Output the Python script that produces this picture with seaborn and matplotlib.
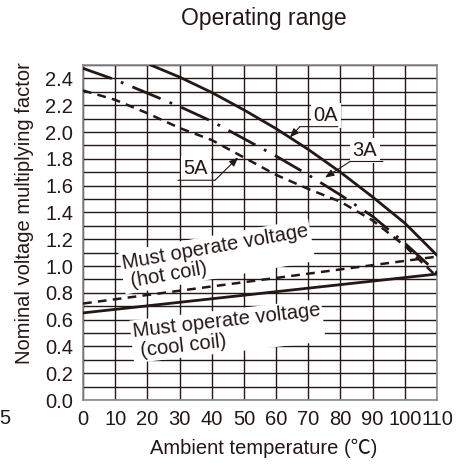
import numpy as np
import pandas as pd
import matplotlib
matplotlib.use("Agg")
import matplotlib.pyplot as plt
import seaborn as sns

# ---- data ----
temp = [0, 10, 20, 30, 40, 50, 60, 70, 80, 90, 100, 110]
temp_0a = [21, 30, 40, 50, 60, 70, 80, 90, 100, 110]
factor_0a = [2.50, 2.41, 2.295, 2.165, 2.025, 1.87, 1.70, 1.515, 1.32, 1.08]
factor_3a = [2.475, 2.39, 2.29, 2.19, 2.08, 1.95, 1.82, 1.68, 1.53, 1.37, 1.17, 0.95]
factor_5a = [2.31, 2.24, 2.14, 2.03, 1.94, 1.81, 1.68, 1.575, 1.48, 1.34, 1.15, 0.92]
temp_coil = [0, 110]
hot_coil = [0.72, 1.07]
cool_coil = [0.65, 0.94]
x_ticks = [0, 10, 20, 30, 40, 50, 60, 70, 80, 90, 100, 110]
y_ticks = [0.0, 0.2, 0.4, 0.6, 0.8, 1.0, 1.2, 1.4, 1.6, 1.8, 2.0, 2.2, 2.4]

sns.set_theme(style="white")
plt.rcParams['font.family'] = ['Liberation Sans', 'Noto Sans CJK JP', 'DejaVu Sans']

FS = 14.5
INK = '#231815'

fig = plt.figure(figsize=(4.70, 4.65), dpi=100)
ax = fig.add_axes([83/470, 1 - 400/465, 354/470, 335/465])

ax.set_xlim(0, 110)
ax.set_ylim(0, 2.5)
ax.set_xticks(x_ticks)
ax.set_xticklabels([str(t) for t in x_ticks], fontsize=FS, color=INK)
ax.set_yticks(y_ticks)
ax.set_yticklabels([f"{v:.1f}" for v in y_ticks], fontsize=FS, color=INK)
ax.set_yticks(np.arange(0, 2.51, 0.1), minor=True)
ax.tick_params(axis='both', which='both', length=0, pad=7)
ax.grid(True, which='both', color=INK, lw=1.0, zorder=0)
ax.set_axisbelow(True)
for s in ax.spines.values():
    s.set_color('#8a8a8a')
    s.set_linewidth(1.2)

# curves
sns.lineplot(x=temp_0a, y=factor_0a, ax=ax, color=INK, lw=2.0, zorder=3)
sns.lineplot(x=temp, y=factor_3a, ax=ax, color=INK, lw=2.0,
             linestyle=(0, (11, 3.5, 1, 3.5)), zorder=3)
sns.lineplot(x=temp, y=factor_5a, ax=ax, color=INK, lw=1.8,
             linestyle=(0, (3.5, 2.5)), zorder=3)
sns.lineplot(x=temp_coil, y=hot_coil, ax=ax, color=INK, lw=1.8,
             linestyle=(0, (3.5, 2.5)), zorder=3)
sns.lineplot(x=temp_coil, y=cool_coil, ax=ax, color=INK, lw=2.0, zorder=3)

box = dict(boxstyle='square,pad=0.15', fc='white', ec='none')
arrow = dict(arrowstyle='-|>,head_length=0.45,head_width=0.18', lw=0.8,
             color=INK, shrinkA=0, shrinkB=0)

def callout(text, tx, ty, hx0, hx1, hy, corner_x, tip):
    ax.text(tx, ty, text, fontsize=FS, ha='center', va='center', color=INK,
            bbox=box, zorder=6)
    ax.annotate('', xy=(hx1, hy), xytext=(hx0, hy),
                arrowprops=dict(arrowstyle='-', lw=0.8, color=INK,
                                shrinkA=0, shrinkB=0), zorder=7)
    ax.annotate('', xy=tip, xytext=(corner_x, hy), arrowprops=arrow, zorder=7)

callout('0A', 75.5, 2.12, 67.4, 79.2, 2.04, 67.4, (64.3, 1.96))
callout('3A', 87.6, 1.86, 83.0, 93.2, 1.78, 83.0, (75.2, 1.66))
callout('5A', 35.1, 1.73, 29.5, 41.0, 1.64, 41.0, (48.2, 1.81))

ax.text(41.6, 1.07, 'Must operate voltage\n (hot coil)', fontsize=FS,
        rotation=10, ha='center', va='center', multialignment='left',
        rotation_mode='anchor', color=INK, linespacing=1.05,
        bbox=dict(boxstyle='square,pad=0.1', fc='white', ec='none'), zorder=6)
ax.text(44.9, 0.515, 'Must operate voltage\n (cool coil)', fontsize=FS,
        rotation=6.5, ha='center', va='center', multialignment='left',
        rotation_mode='anchor', color=INK, linespacing=1.05,
        bbox=dict(boxstyle='square,pad=0.1', fc='white', ec='none'), zorder=6)

ax.set_xlabel('Ambient temperature (℃)', fontsize=FS, color=INK, va='center')
ax.xaxis.set_label_coords((264 - 83) / 354, (400 - 448) / 335)
ax.set_ylabel('Nominal voltage multiplying factor', fontsize=FS, color=INK,
              va='center')
ax.yaxis.set_label_coords((25 - 83) / 354, (400 - 213) / 335)

fig.text(264 / 470, 1 - 19 / 465, 'Operating range', fontsize=16.5,
         ha='center', va='center', color=INK)
fig.text(10 / 470, 1 - 418 / 465, '5', fontsize=FS, ha='right', va='center',
         color=INK)

fig.savefig('out.png', dpi=100)
